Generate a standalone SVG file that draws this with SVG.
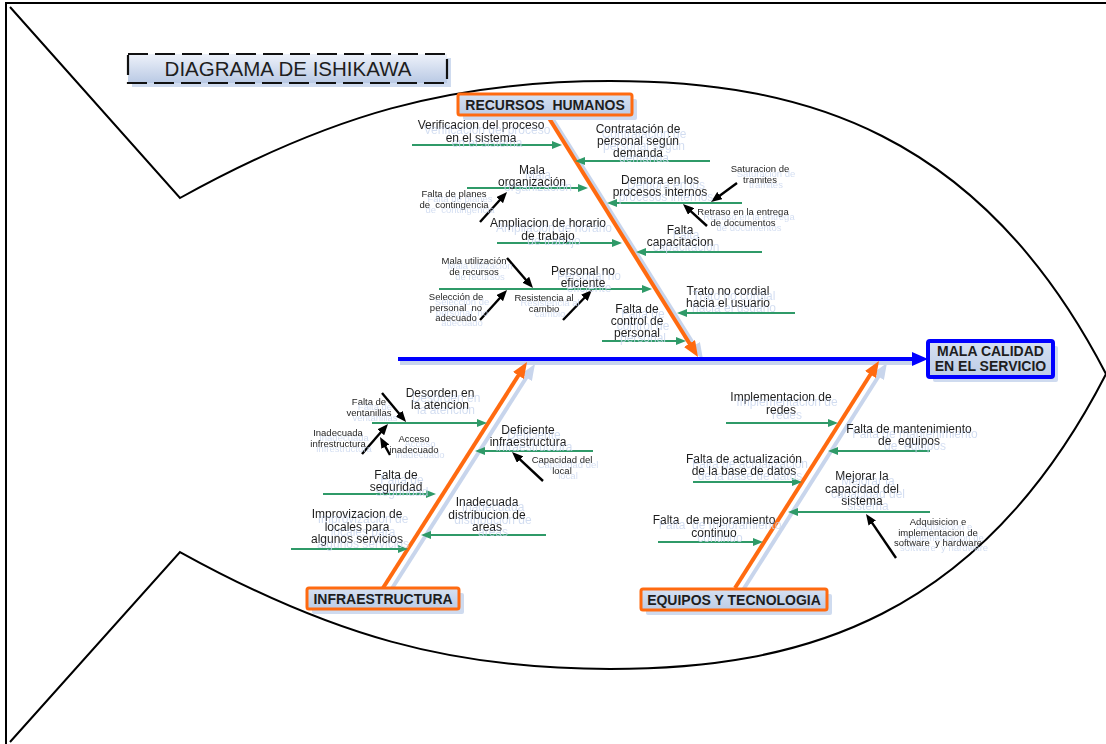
<svg xmlns="http://www.w3.org/2000/svg" width="1106" height="744" viewBox="0 0 1106 744">
  <style>
    text { font-family: "Liberation Sans", Arial, sans-serif; fill: #1e1e1e; text-anchor: middle; white-space: pre; }
    .lbl { font-size: 12px; }
    .sm { font-size: 9.5px; }
    .cat { font-size: 14px; font-weight: bold; }
    .title { font-size: 20.5px; }
    .outline { fill: none; stroke: #000; stroke-width: 2; }
    .g { stroke: #2f9a68; stroke-width: 2; fill: none; marker-end: url(#ag); }
    .k { stroke: #000; stroke-width: 2.4; fill: none; marker-end: url(#ak); }
    .bone { stroke: #ff6a10; stroke-width: 4; fill: none; marker-end: url(#ao); }
    .bsh { stroke: #c8d5ec; stroke-width: 4; fill: none; marker-end: url(#as); }
    .spine { stroke: #0000ff; stroke-width: 4; fill: none; marker-end: url(#ab); }
    .shadowbox { fill: #cfdbef; }
    .catbox { fill: url(#boxfill); stroke: #ff6a10; stroke-width: 3; }
  </style>
  <defs>
    <linearGradient id="boxfill" x1="0" y1="0" x2="0" y2="1">
      <stop offset="0" stop-color="#d6e1f2"/>
      <stop offset="1" stop-color="#bccce6"/>
    </linearGradient>
    <linearGradient id="titlefill" x1="0" y1="0" x2="0" y2="1">
      <stop offset="0" stop-color="#eef2fa"/>
      <stop offset="1" stop-color="#b9c9e4"/>
    </linearGradient>
    <filter id="ghost" x="-10%" y="-20%" width="125%" height="160%">
      <feFlood flood-color="#c9d6ee" flood-opacity="0.85"/>
      <feComposite in2="SourceAlpha" operator="in"/>
      <feOffset dx="6" dy="5" result="gh"/>
      <feMerge>
        <feMergeNode in="gh"/>
        <feMergeNode in="SourceGraphic"/>
      </feMerge>
    </filter>
    <marker id="ag" markerUnits="userSpaceOnUse" markerWidth="10" markerHeight="8" refX="2" refY="4" orient="auto">
      <path d="M0,0 L10,4 L0,8 z" fill="#2f9a68"/>
    </marker>
    <marker id="ak" markerUnits="userSpaceOnUse" markerWidth="11" markerHeight="9" refX="2" refY="4.5" orient="auto">
      <path d="M0,0 L11,4.5 L0,9 z" fill="#000"/>
    </marker>
    <marker id="ao" markerUnits="userSpaceOnUse" markerWidth="16" markerHeight="13" refX="3" refY="6.5" orient="auto">
      <path d="M0,0 L16,6.5 L0,13 z" fill="#ff6a10"/>
    </marker>
    <marker id="as" markerUnits="userSpaceOnUse" markerWidth="16" markerHeight="13" refX="3" refY="6.5" orient="auto">
      <path d="M0,0 L16,6.5 L0,13 z" fill="#c8d5ec"/>
    </marker>
    <marker id="ab" markerUnits="userSpaceOnUse" markerWidth="16" markerHeight="14" refX="3" refY="7" orient="auto">
      <path d="M0,0 L16,7 L0,14 z" fill="#0000ff"/>
    </marker>
  </defs>

  <rect width="1106" height="744" fill="#fff"/>

  <!-- frame and fish outline -->
  <g id="fish">
    <path class="outline" d="M6,744 V3 H1106"/>
    <path class="outline" d="M10,7 L180,198 C330,115 450,81 610,81 C800,81 980,130 1106,374"/>
    <path class="outline" d="M10,742 L180,552 C330,635 450,669 610,669 C800,669 980,620 1106,374"/>
  </g>

  <!-- title -->
  <g id="title">
    <rect class="shadowbox" x="132" y="58" width="319" height="29"/>
    <rect x="128" y="54" width="319" height="29" fill="url(#titlefill)" stroke="#111" stroke-width="2.2" stroke-dasharray="20 7"/>
    <text class="title" x="288" y="76">DIAGRAMA DE ISHIKAWA</text>
  </g>

  <!-- bones, spine and cause arrows -->
  <g id="connectors">
    <line class="bsh" x1="552" y1="118" x2="696" y2="348"/>
    <line class="bsh" x1="391" y1="590" x2="528" y2="375"/>
    <line class="bsh" x1="743" y1="590" x2="880" y2="374"/>
    <line x1="400" y1="363" x2="915" y2="363" stroke="#c8d5ec" stroke-width="4"/>
    <line class="spine" x1="398" y1="359" x2="915" y2="359"/>
    <line class="bone" x1="547" y1="115" x2="691.1" y2="346"/>
    <line class="bone" x1="383" y1="588" x2="520" y2="373"/>
    <line class="bone" x1="735" y1="588" x2="872" y2="372"/>

    <!-- recursos humanos -->
    <line class="g" x1="412" y1="145" x2="554" y2="145"/>
    <line class="g" x1="710" y1="161" x2="583" y2="161"/>
    <line class="g" x1="467" y1="188" x2="580" y2="188"/>
    <line class="g" x1="742" y1="203" x2="615" y2="203"/>
    <line class="g" x1="497" y1="243" x2="614" y2="243"/>
    <line class="g" x1="762" y1="252" x2="644" y2="252"/>
    <line class="g" x1="439" y1="289" x2="644" y2="289"/>
    <line class="g" x1="795" y1="313" x2="685" y2="313"/>
    <line class="g" x1="602" y1="341" x2="678" y2="341"/>
    <line class="k" x1="480" y1="222" x2="501" y2="198.7"/>
    <line class="k" x1="737" y1="183" x2="718.3" y2="196.7"/>
    <line class="k" x1="707" y1="226" x2="689.6" y2="210.1"/>
    <line class="k" x1="507" y1="258" x2="527.1" y2="281.2"/>
    <line class="k" x1="480" y1="320" x2="501" y2="296.7"/>
    <line class="k" x1="563" y1="320" x2="585.7" y2="296.5"/>

    <!-- infraestructura -->
    <line class="g" x1="372" y1="423" x2="479" y2="423"/>
    <line class="g" x1="593" y1="451" x2="483" y2="451"/>
    <line class="g" x1="323" y1="494" x2="428" y2="494"/>
    <line class="g" x1="546" y1="535" x2="429" y2="535"/>
    <line class="g" x1="291" y1="549" x2="400" y2="549"/>
    <line class="k" x1="382" y1="393" x2="400.3" y2="415.1"/>
    <line class="k" x1="362" y1="454" x2="382.1" y2="430.8"/>
    <line class="k" x1="390" y1="455" x2="384.4" y2="444.9"/>
    <line class="k" x1="543" y1="481" x2="518.6" y2="458.2"/>

    <!-- equipos y tecnologia -->
    <line class="g" x1="726" y1="423" x2="830" y2="423"/>
    <line class="g" x1="930" y1="451" x2="836" y2="451"/>
    <line class="g" x1="693" y1="482" x2="794" y2="482"/>
    <line class="g" x1="930" y1="512" x2="796" y2="512"/>
    <line class="g" x1="658" y1="542" x2="755" y2="542"/>
    <line class="k" x1="896" y1="558" x2="871.1" y2="521.4"/>
  </g>

  <!-- effect -->
  <g id="effect">
    <rect class="shadowbox" x="933" y="346" width="125" height="36" rx="2"/>
    <rect x="928" y="341" width="125" height="36" rx="2" fill="url(#boxfill)" stroke="#0000ff" stroke-width="4"/>
    <text class="cat" x="990.5" y="356">MALA CALIDAD</text>
    <text class="cat" x="990.5" y="370.5">EN EL SERVICIO</text>
  </g>

  <!-- categories -->
  <g id="cat-recursos-humanos">
    <rect class="shadowbox" x="463" y="99" width="174" height="21" rx="2"/>
    <rect class="catbox" x="458" y="94" width="174" height="21" rx="2"/>
    <text class="cat" x="545" y="109.5">RECURSOS  HUMANOS</text>
  </g>
  <g id="cat-infraestructura">
    <rect class="shadowbox" x="312" y="593" width="152" height="21" rx="2"/>
    <rect class="catbox" x="307" y="588" width="152" height="21" rx="2"/>
    <text class="cat" x="383" y="603.5">INFRAESTRUCTURA</text>
  </g>
  <g id="cat-equipos">
    <rect class="shadowbox" x="646" y="594" width="186" height="21" rx="2"/>
    <rect class="catbox" x="641" y="589" width="186" height="21" rx="2"/>
    <text class="cat" x="734" y="604.5">EQUIPOS Y TECNOLOGIA</text>
  </g>

  <!-- causes: recursos humanos -->
  <g filter="url(#ghost)">
    <g id="c-verificacion"><text class="lbl" x="481" y="129">Verificacion del proceso</text><text class="lbl" x="481" y="142">en el sistema</text></g>
    <g id="c-contratacion"><text class="lbl" x="638" y="133">Contratación de</text><text class="lbl" x="638" y="145">personal según</text><text class="lbl" x="638" y="157">demanda</text></g>
    <g id="c-mala-organizacion"><text class="lbl" x="532" y="174">Mala</text><text class="lbl" x="532" y="186">organización</text></g>
    <g id="c-demora"><text class="lbl" x="660" y="184">Demora en los</text><text class="lbl" x="660" y="196">procesos internos</text></g>
    <g id="c-ampliacion"><text class="lbl" x="548" y="227">Ampliacion de horario</text><text class="lbl" x="548" y="240">de trabajo</text></g>
    <g id="c-capacitacion"><text class="lbl" x="680" y="234">Falta</text><text class="lbl" x="680" y="246">capacitacion</text></g>
    <g id="c-personal"><text class="lbl" x="583" y="275">Personal no</text><text class="lbl" x="583" y="287">eficiente</text></g>
    <g id="c-trato"><text class="lbl" x="728" y="295">Trato no cordial</text><text class="lbl" x="728" y="307">hacia el usuario</text></g>
    <g id="c-control"><text class="lbl" x="637" y="313">Falta de</text><text class="lbl" x="637" y="325">control de</text><text class="lbl" x="637" y="337">personal</text></g>

    <g id="s-planes"><text class="sm" x="454" y="197">Falta de planes</text><text class="sm" x="454" y="207.5">de  contingencia</text></g>
    <g id="s-saturacion"><text class="sm" x="760" y="172">Saturacion de</text><text class="sm" x="760" y="182.5">tramites</text></g>
    <g id="s-retraso"><text class="sm" x="743" y="215">Retraso en la entrega</text><text class="sm" x="743" y="225.5">de documentos</text></g>
    <g id="s-mala-utilizacion"><text class="sm" x="474" y="264">Mala utilización</text><text class="sm" x="474" y="274.5">de recursos</text></g>
    <g id="s-seleccion"><text class="sm" x="456" y="300">Selección de</text><text class="sm" x="456" y="310.5">personal  no</text><text class="sm" x="456" y="321">adecuado</text></g>
    <g id="s-resistencia"><text class="sm" x="544" y="301">Resistencia al</text><text class="sm" x="544" y="311.5">cambio</text></g>
  </g>

  <!-- causes: infraestructura -->
  <g filter="url(#ghost)">
    <g id="c-desorden"><text class="lbl" x="440" y="397">Desorden en</text><text class="lbl" x="440" y="409">la atencion</text></g>
    <g id="c-deficiente"><text class="lbl" x="528" y="434">Deficiente</text><text class="lbl" x="528" y="446">infraestructura</text></g>
    <g id="c-seguridad"><text class="lbl" x="396" y="479">Falta de</text><text class="lbl" x="396" y="491">seguridad</text></g>
    <g id="c-distribucion"><text class="lbl" x="487" y="506">Inadecuada</text><text class="lbl" x="487" y="518.5">distribucion de</text><text class="lbl" x="487" y="531">areas</text></g>
    <g id="c-improvizacion"><text class="lbl" x="357" y="518">Improvizacion de</text><text class="lbl" x="357" y="530.5">locales para</text><text class="lbl" x="357" y="543">algunos servicios</text></g>

    <g id="s-ventanillas"><text class="sm" x="369" y="405">Falta de</text><text class="sm" x="369" y="415.5">ventanillas</text></g>
    <g id="s-infrestructura"><text class="sm" x="338" y="436">Inadecuada</text><text class="sm" x="338" y="446.5">infrestructura</text></g>
    <g id="s-acceso"><text class="sm" x="414" y="442">Acceso</text><text class="sm" x="414" y="452.5">inadecuado</text></g>
    <g id="s-capacidad-local"><text class="sm" x="562" y="463">Capacidad del</text><text class="sm" x="562" y="473.5">local</text></g>
  </g>

  <!-- causes: equipos y tecnologia -->
  <g filter="url(#ghost)">
    <g id="c-redes"><text class="lbl" x="781" y="401">Implementacion de</text><text class="lbl" x="781" y="414">redes</text></g>
    <g id="c-mantenimiento"><text class="lbl" x="909" y="433">Falta de mantenimiento</text><text class="lbl" x="909" y="445">de  equipos</text></g>
    <g id="c-actualizacion"><text class="lbl" x="744" y="463">Falta de actualización</text><text class="lbl" x="744" y="475">de la base de datos</text></g>
    <g id="c-mejorar"><text class="lbl" x="862" y="480">Mejorar la</text><text class="lbl" x="862" y="493">capacidad del</text><text class="lbl" x="862" y="505">sistema</text></g>
    <g id="c-mejoramiento"><text class="lbl" x="714" y="524">Falta  de mejoramiento</text><text class="lbl" x="714" y="537">continuo</text></g>

    <g id="s-adquisicion"><text class="sm" x="938" y="525">Adquisicion e</text><text class="sm" x="938" y="535.5">implementacion de</text><text class="sm" x="938" y="546">software  y hardware</text></g>
  </g>
</svg>
